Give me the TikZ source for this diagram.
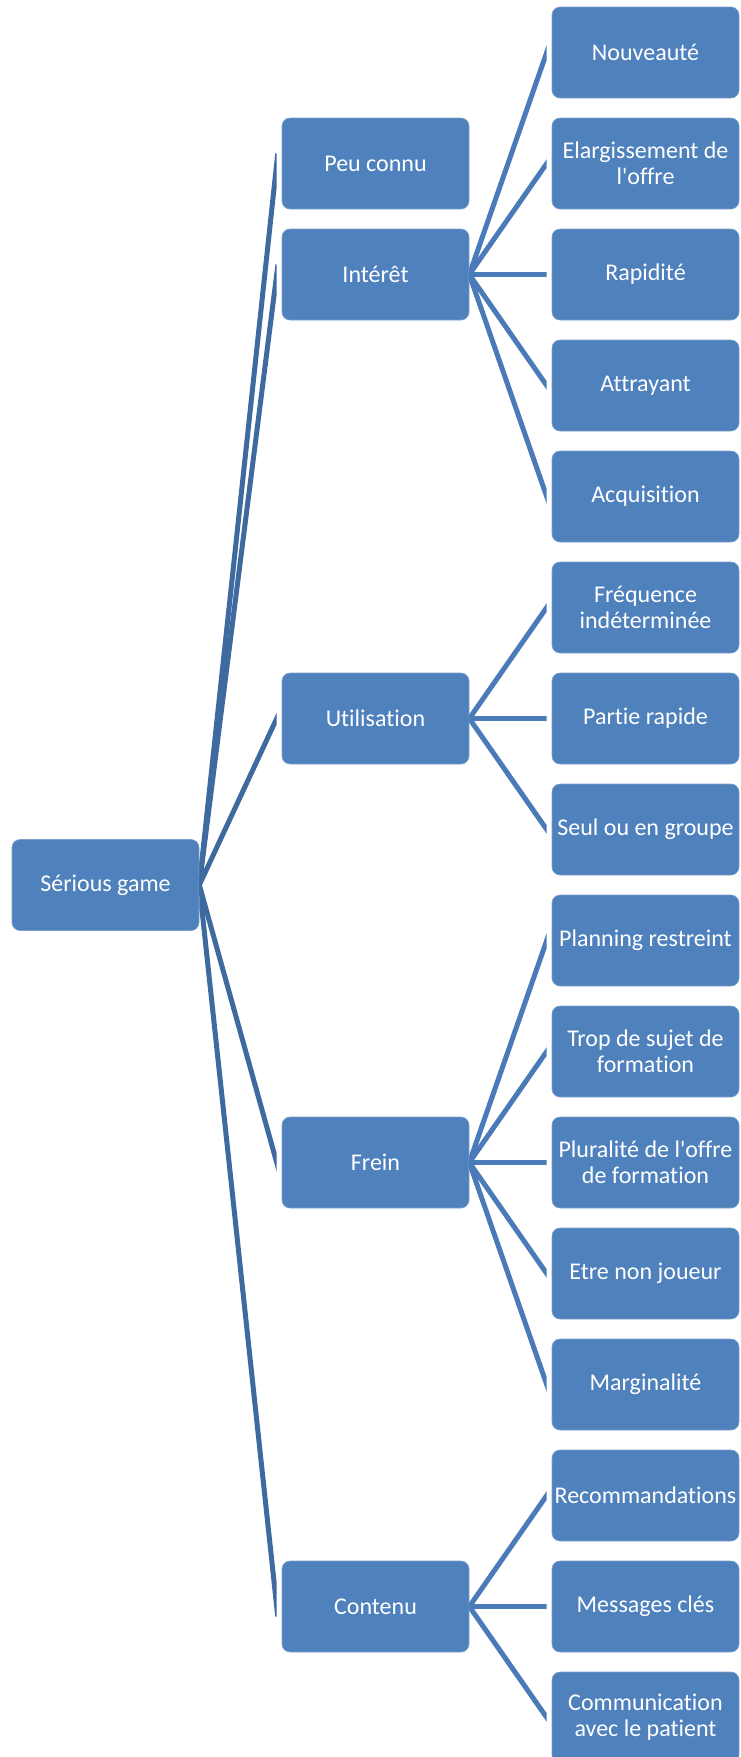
\documentclass[tikz,border=0pt]{standalone}
\usepackage{fontspec}
\newfontfamily\boxfont{Carlito}[Ligatures=NoCommon]
\usetikzlibrary{calc}
\definecolor{boxblue}{HTML}{4F81BD}
\definecolor{lineroot}{HTML}{3F6A9F}
\definecolor{linemid}{HTML}{4A7AB8}
\newcommand{\apos}{\textquotesingle}
\tikzset{
  box/.style={fill=boxblue, draw=boxblue!75!white, line width=0.6pt, rounded corners=8pt,
    minimum width=187pt, minimum height=91pt, inner sep=1pt, text=white, align=center,
    font=\boxfont\fontsize{24}{26}\selectfont},
  conn/.style={line width=5pt, shorten <=-10pt, shorten >=-10pt},
}
\begin{document}
\begin{tikzpicture}[x=1pt,y=-1pt]
\useasboundingbox[fill=white] (0,0) rectangle (740,1757);
\node[box] (root) at (105.5,885) {Sérious game};
% level 1
\node[box] (peu) at (375.5,163.5) {Peu connu};
\node[box] (int) at (375.5,274.5) {Intérêt};
\node[box] (uti) at (375.5,718.5) {Utilisation};
\node[box] (fre) at (375.5,1162.5) {Frein};
\node[box] (con) at (375.5,1606.5) {Contenu};
% level 2
\node[box] (nou) at (645.5,52.5) {Nouveauté};
\node[box] (ela) at (645.5,163.5) {Elargissement de\\l\apos offre};
\node[box] (rap) at (645.5,274.5) {Rapidité};
\node[box] (att) at (645.5,385.5) {Attrayant};
\node[box] (acq) at (645.5,496.5) {Acquisition};
\node[box] (fri) at (645.5,607.5) {Fréquence\\indéterminée};
\node[box] (par) at (645.5,718.5) {Partie rapide};
\node[box] (seu) at (645.5,829.5) {Seul ou en groupe};
\node[box] (pla) at (645.5,940.5) {Planning restreint};
\node[box] (tro) at (645.5,1051.5) {Trop de sujet de\\formation};
\node[box] (plu) at (645.5,1162.5) {Pluralité de l\apos offre\\de formation};
\node[box] (etr) at (645.5,1273.5) {Etre non joueur};
\node[box] (mar) at (645.5,1384.5) {Marginalité};
\node[box] (rec) at (645.5,1495.5) {Recommandations};
\node[box] (mes) at (645.5,1606.5) {Messages clés};
\node[box] (com) at (645.5,1717.5) {Communication\\avec le patient};
% connectors root -> level 1
\begin{scope}
\clip (root.east |- 0,0) rectangle ($(peu.west |- 0,1757)+(-5,0)$);
\foreach \c in {peu,int,uti,fre,con}
  \draw[conn,draw=lineroot] (root.east) -- ($(\c.west)+(-5,0)$);
\end{scope}
% connectors level 1 -> level 2
\begin{scope}
\clip (int.east |- 0,0) rectangle ($(nou.west |- 0,1757)+(-5,0)$);
\foreach \c in {nou,ela,rap,att,acq}
  \draw[conn,draw=linemid] (int.east) -- ($(\c.west)+(-5,0)$);
\foreach \c in {fri,par,seu}
  \draw[conn,draw=linemid] (uti.east) -- ($(\c.west)+(-5,0)$);
\foreach \c in {pla,tro,plu,etr,mar}
  \draw[conn,draw=linemid] (fre.east) -- ($(\c.west)+(-5,0)$);
\foreach \c in {rec,mes,com}
  \draw[conn,draw=linemid] (con.east) -- ($(\c.west)+(-5,0)$);
\end{scope}
\end{tikzpicture}
\end{document}
